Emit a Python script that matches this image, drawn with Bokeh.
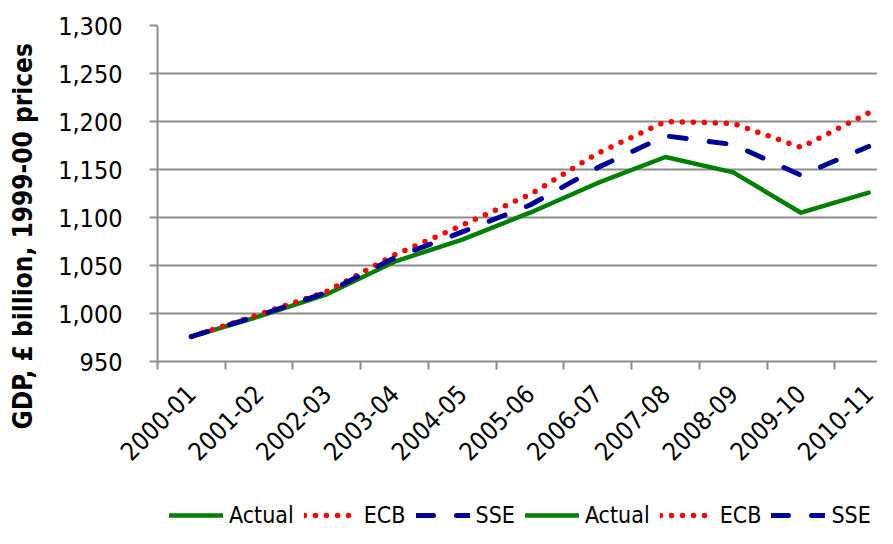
import math
from bokeh.plotting import figure
from bokeh.layouts import column
from bokeh.models import (Range1d, FixedTicker, NumeralTickFormatter, Legend, LegendItem,
                          Title, ColumnDataSource)
from bokeh.embed import file_html
from bokeh.resources import INLINE

# ---- data ----
categories = ["2000-01", "2001-02", "2002-03", "2003-04", "2004-05", "2005-06",
              "2006-07", "2007-08", "2008-09", "2009-10", "2010-11"]
actual = [976, 997, 1020, 1054, 1077, 1105, 1136, 1163, 1147, 1105, 1126]
ecb = [976, 999, 1023, 1061, 1092, 1124, 1167, 1200, 1198, 1173, 1209]
sse = [976, 998, 1022, 1058, 1085, 1113, 1152, 1185, 1176, 1144, 1174]
y_ticks = [950, 1000, 1050, 1100, 1150, 1200, 1250, 1300]
y_label = "GDP, £ billion, 1999-00 prices"

FONT = "DejaVu Sans Condensed"

xpos = [i + 0.5 for i in range(len(categories))]
src = ColumnDataSource(dict(x=xpos, actual=actual, ecb=ecb, sse=sse))

styles = dict(
    actual=dict(line_color="#008000", line_width=4.5, line_join="round", line_cap="round"),
    ecb=dict(line_color="#ff0000", line_width=5.5, line_dash="0 11", line_cap="round",
             line_join="round"),
    sse=dict(line_color="#000099", line_width=5, line_dash="17 23", line_cap="round",
             line_join="round"),
)

p = figure(width=877, height=498,
           x_range=Range1d(0, 10.63), y_range=Range1d(y_ticks[0], y_ticks[-1]),
           output_backend="svg", toolbar_location=None,
           min_border_left=156, min_border_right=0, min_border_top=25, min_border_bottom=137)
p.outline_line_color = None
p.background_fill_color = "white"
p.border_fill_color = "white"

grid_col = "#8c8c8c"

# y axis
p.yaxis.ticker = FixedTicker(ticks=y_ticks)
p.yaxis.formatter = NumeralTickFormatter(format="0,0")
p.yaxis.axis_line_color = grid_col
p.yaxis.axis_line_width = 2
p.yaxis.major_tick_line_color = grid_col
p.yaxis.major_tick_line_width = 2
p.yaxis.major_tick_out = 8
p.yaxis.major_tick_in = 0
p.yaxis.minor_tick_line_color = None
p.yaxis.major_label_text_font = FONT
p.yaxis.major_label_text_font_size = "25px"
p.yaxis.major_label_text_color = "black"
p.yaxis.major_label_standoff = 27

# x axis
p.xaxis.ticker = FixedTicker(ticks=xpos, minor_ticks=list(range(len(categories) + 1)))
p.xaxis.major_label_overrides = {x: c for x, c in zip(xpos, categories)}
p.xaxis.axis_line_color = grid_col
p.xaxis.axis_line_width = 2
p.xaxis.major_tick_line_color = None
p.xaxis.major_tick_out = 0
p.xaxis.major_tick_in = 0
p.xaxis.minor_tick_line_color = grid_col
p.xaxis.minor_tick_line_width = 2
p.xaxis.minor_tick_out = 8
p.xaxis.minor_tick_in = 0
p.xaxis.major_label_orientation = math.pi / 4
p.xaxis.major_label_text_font = FONT
p.xaxis.major_label_text_font_size = "25px"
p.xaxis.major_label_text_color = "black"
p.xaxis.major_label_standoff = 20

p.xgrid.grid_line_color = None
p.ygrid.ticker = FixedTicker(ticks=y_ticks)
p.ygrid.grid_line_color = grid_col
p.ygrid.grid_line_width = 2

# lines
p.line("x", "actual", source=src, **styles["actual"])
p.line("x", "ecb", source=src, **styles["ecb"])
p.line("x", "sse", source=src, **styles["sse"])

# y label as left title (a small spacer pushes it outward)
p.add_layout(Title(text=" ", text_font_size="10px", standoff=0), "left")
p.add_layout(Title(text=y_label, align="left", offset=-68, text_font=FONT,
                   text_font_size="26px", text_font_style="bold", text_color="black"), "left")

# legend strip under the chart
lg = figure(width=877, height=30, x_range=Range1d(-10, -9), y_range=Range1d(0, 1),
            output_backend="svg", toolbar_location=None,
            x_axis_location=None, y_axis_location=None,
            min_border_left=0, min_border_right=0, min_border_top=0, min_border_bottom=0)
lg.outline_line_color = None
lg.grid.visible = False
lg.border_fill_color = "white"
l_act = lg.line("x", "actual", source=src, **styles["actual"])
l_ecb = lg.line("x", "ecb", source=src, **styles["ecb"])
l_sse = lg.line("x", "sse", source=src, **styles["sse"])

items = []
for _ in range(2):
    items += [LegendItem(label="Actual", renderers=[l_act]),
              LegendItem(label="ECB", renderers=[l_ecb]),
              LegendItem(label="SSE", renderers=[l_sse])]
legend = Legend(items=items, orientation="horizontal", location=(12, 0),
                glyph_width=54, glyph_height=20, label_standoff=6, spacing=10,
                padding=0, margin=0, border_line_color=None, background_fill_alpha=0,
                label_text_font=FONT, label_text_font_size="23px", label_text_color="black")
lg.add_layout(legend, "center")

open("out.html", "w").write(file_html(column(p, lg, spacing=0), INLINE))
